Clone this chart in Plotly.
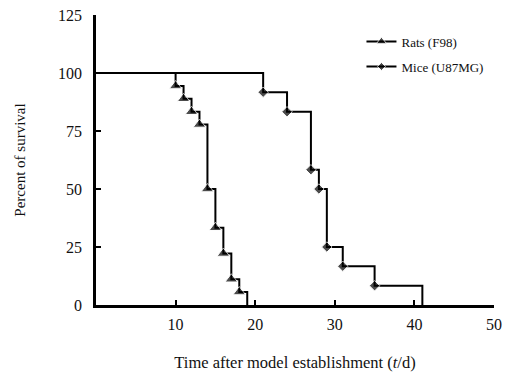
import plotly.graph_objects as go

# Kaplan-Meier style survival data (percent survival at each time, days)
rats_days = [0, 10, 11, 12, 13, 14, 15, 16, 17, 18, 19]
rats_surv = [100, 94.4, 88.9, 83.3, 77.8, 50.0, 33.3, 22.2, 11.1, 5.6, 0]
mice_days = [0, 21, 24, 27, 28, 29, 31, 35, 41]
mice_surv = [100, 91.7, 83.3, 58.3, 50.0, 25.0, 16.7, 8.3, 0]

x_ticks = [10, 20, 30, 40, 50]
y_ticks = [0, 25, 50, 75, 100, 125]

FONT = "Liberation Serif"

def sizes(n, s):
    return [0] + [s] * (n - 2) + [0]

fig = go.Figure()
fig.add_trace(go.Scatter(
    x=rats_days, y=rats_surv, mode="lines+markers", name="Rats (F98)",
    line=dict(shape="hv", color="black", width=2),
    marker=dict(symbol="triangle-up", size=sizes(len(rats_days), 11), color="black"),
    legendgroup="a",
))
fig.add_trace(go.Scatter(
    x=mice_days, y=mice_surv, mode="lines+markers", name="Mice (U87MG)",
    line=dict(shape="hv", color="black", width=2),
    marker=dict(symbol="diamond", size=sizes(len(mice_days), 8), color="black"),
    legendgroup="b",
))

fig.update_layout(
    width=524, height=377,
    margin=dict(l=96, r=30, t=15, b=72),
    paper_bgcolor="white", plot_bgcolor="white",
    font=dict(family=FONT, size=16, color="#111"),
    showlegend=True,
    legend=dict(
        x=0.667, y=0.96, xanchor="left", yanchor="top",
        font=dict(family=FONT, size=13, color="#111"),
        bgcolor="rgba(0,0,0,0)", tracegroupgap=5,
        traceorder="grouped",
    ),
    xaxis=dict(
        range=[0, 50], tickvals=x_ticks, ticks="inside", ticklen=5, tickwidth=1.5,
        tickcolor="black", showline=True, linecolor="black", linewidth=2.5,
        showgrid=False, zeroline=False, ticklabelstandoff=3, automargin=False,
        title=dict(text="Time after model establishment (<i>t</i>/d)", standoff=25,
                   font=dict(family=FONT, size=16.5)),
    ),
    yaxis=dict(
        range=[0, 125], tickvals=y_ticks, ticks="inside", ticklen=5, tickwidth=1.5,
        tickcolor="black", showline=True, linecolor="black", linewidth=2.5,
        showgrid=False, zeroline=False, ticklabelstandoff=8, automargin=False,
        title=dict(text="Percent of survival", standoff=29,
                   font=dict(family=FONT, size=15)),
    ),
)

fig.write_html("out.html", config={"displayModeBar": False},
               post_script="document.body.style.margin='0';")
